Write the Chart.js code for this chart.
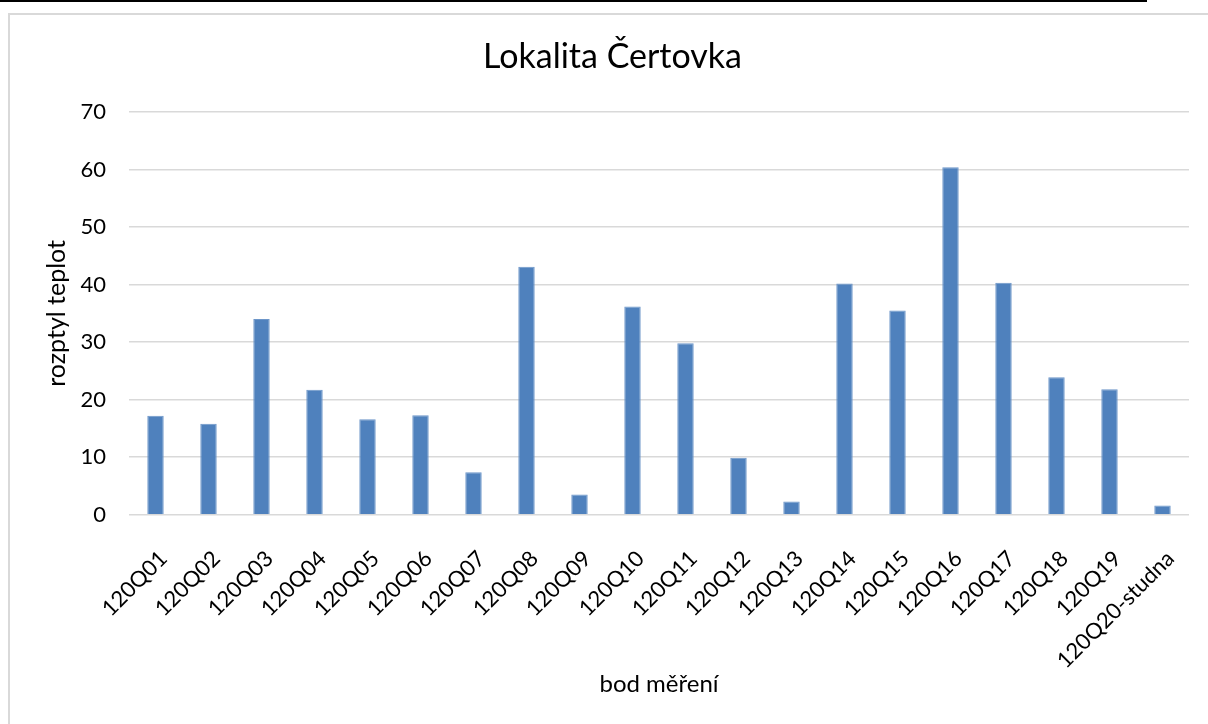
<!DOCTYPE html>
<html lang="cs">
<head>
<meta charset="utf-8">
<title>Lokalita Čertovka</title>
<script src="https://cdn.jsdelivr.net/npm/chart.js@4/dist/chart.umd.min.js"></script>
<style>
  html, body { margin: 0; padding: 0; background: #fff; }
  #wrap { position: relative; width: 1208px; height: 724px; }
  canvas { display: block; }
</style>
</head>
<body>
<div id="wrap"><canvas id="chart" width="1208" height="724"></canvas></div>
<script>
// Measuring points and temperature spread at each point
const categories = [
  '120Q01', '120Q02', '120Q03', '120Q04', '120Q05', '120Q06', '120Q07',
  '120Q08', '120Q09', '120Q10', '120Q11', '120Q12', '120Q13', '120Q14',
  '120Q15', '120Q16', '120Q17', '120Q18', '120Q19', '120Q20-studna'
];
const rozptyl = [
  17.2, 15.8, 34.0, 21.7, 16.6, 17.3, 7.4,
  43.1, 3.5, 36.2, 29.8, 9.9, 2.3, 40.2,
  35.5, 60.4, 40.3, 23.9, 21.8, 1.6
];
const yTicks = [0, 10, 20, 30, 40, 50, 60, 70];

const FONT = 'Lato, "Open Sans", "Liberation Sans", sans-serif';

// Page frame: thin dark rule along the top edge and a light grey chart border
const framePlugin = {
  id: 'frame',
  beforeDraw(chart) {
    const ctx = chart.ctx;
    ctx.save();
    ctx.fillStyle = '#ffffff';
    ctx.fillRect(0, 0, chart.width, chart.height);
    ctx.fillStyle = '#000000';
    ctx.fillRect(0, 0, 1147, 2);
    ctx.strokeStyle = '#d9d9d9';
    ctx.lineWidth = 2;
    ctx.strokeRect(9, 14, chart.width + 20, chart.height + 20);
    ctx.restore();
  }
};

new Chart(document.getElementById('chart'), {
  type: 'bar',
  data: {
    labels: categories,
    datasets: [{
      label: 'rozptyl teplot',
      data: rozptyl,
      backgroundColor: '#4f81bd',
      borderColor: '#6d96c9',
      borderWidth: 1,
      barPercentage: 0.31,
      categoryPercentage: 1.0
    }]
  },
  options: {
    responsive: false,
    animation: false,
    layout: { padding: { top: 37, right: 19, bottom: 0, left: 36 } },
    plugins: {
      legend: { display: false },
      tooltip: { enabled: false },
      title: {
        display: true,
        text: 'Lokalita Čertovka',
        color: '#000000',
        font: { family: FONT, size: 34, weight: 'normal', lineHeight: 1.2 },
        padding: { top: 0, bottom: 34.2 }
      }
    },
    scales: {
      x: {
        grid: { display: false, drawTicks: false },
        border: { display: false },
        ticks: {
          color: '#000000',
          font: { family: FONT, size: 22 },
          minRotation: 45,
          maxRotation: 45,
          autoSkip: false,
          padding: 31,
          labelOffset: 8
        },
        title: {
          display: true,
          text: 'bod měření',
          color: '#000000',
          font: { family: FONT, size: 24 },
          padding: { top: 0, bottom: 25.6 }
        },
        afterFit(scale) {
          scale.height = 209.3;
          // side padding is handled by the layout padding
          scale.paddingLeft = 0;
          scale.paddingRight = 0;
        }
      },
      y: {
        min: 0,
        max: 70,
        afterBuildTicks(scale) { scale.ticks = yTicks.map(v => ({ value: v })); },
        grid: { color: '#d9d9d9', lineWidth: 1.5, drawTicks: false },
        border: { display: false },
        ticks: {
          color: '#000000',
          font: { family: FONT, size: 22 },
          padding: 23
        },
        title: {
          display: true,
          text: 'rozptyl teplot',
          color: '#000000',
          font: { family: FONT, size: 25 },
          padding: { top: 6, bottom: 0 }
        },
        afterFit(scale) { scale.width = 93; }
      }
    }
  },
  plugins: [framePlugin]
});
</script>
</body>
</html>
